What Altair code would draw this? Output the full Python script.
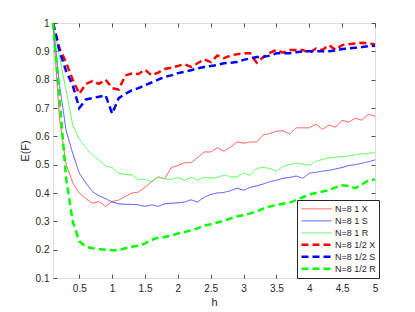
import altair as alt
import pandas as pd

h = [0.1, 0.2, 0.3, 0.4, 0.5, 0.6, 0.7, 0.8, 0.9, 1.0,
     1.1, 1.2, 1.3, 1.4, 1.5, 1.6, 1.7, 1.8, 1.9, 2.0,
     2.1, 2.2, 2.3, 2.4, 2.5, 2.6, 2.7, 2.8, 2.9, 3.0,
     3.1, 3.2, 3.3, 3.4, 3.5, 3.6, 3.7, 3.8, 3.9, 4.0,
     4.1, 4.2, 4.3, 4.4, 4.5, 4.6, 4.7, 4.8, 4.9, 5.0]

x1 = [1.0, 0.66, 0.50, 0.437, 0.40, 0.38, 0.364, 0.37, 0.353, 0.37,
      0.375, 0.388, 0.40, 0.403, 0.42, 0.44, 0.457, 0.45, 0.49, 0.497,
      0.507, 0.507, 0.525, 0.545, 0.545, 0.56, 0.548, 0.562, 0.58, 0.576,
      0.58, 0.58, 0.605, 0.61, 0.618, 0.62, 0.608, 0.63, 0.63, 0.63,
      0.643, 0.625, 0.64, 0.632, 0.657, 0.65, 0.664, 0.657, 0.678, 0.671]

s1 = [1.0, 0.78, 0.62, 0.54, 0.47, 0.435, 0.405, 0.39, 0.38, 0.368,
      0.362, 0.36, 0.36, 0.358, 0.353, 0.358, 0.353, 0.362, 0.364, 0.365,
      0.368, 0.376, 0.368, 0.385, 0.395, 0.40, 0.402, 0.408, 0.417, 0.41,
      0.42, 0.425, 0.432, 0.44, 0.445, 0.452, 0.455, 0.46, 0.452, 0.47,
      0.473, 0.477, 0.48, 0.485, 0.49, 0.497, 0.50, 0.505, 0.51, 0.517]

r1 = [1.0, 0.88, 0.76, 0.64, 0.59, 0.56, 0.535, 0.516, 0.495, 0.49,
      0.47, 0.465, 0.464, 0.448, 0.448, 0.44, 0.456, 0.45, 0.448, 0.455,
      0.444, 0.456, 0.445, 0.456, 0.452, 0.455, 0.463, 0.458, 0.456, 0.47,
      0.463, 0.487, 0.49, 0.487, 0.477, 0.494, 0.50, 0.505, 0.502, 0.498,
      0.512, 0.518, 0.524, 0.527, 0.528, 0.53, 0.535, 0.538, 0.54, 0.542]

x_half = [1.0, 0.91, 0.86, 0.80, 0.75, 0.785, 0.795, 0.785, 0.80, 0.77,
          0.765, 0.815, 0.822, 0.82, 0.835, 0.815, 0.825, 0.838, 0.842, 0.848,
          0.855, 0.845, 0.858, 0.872, 0.862, 0.885, 0.876, 0.885, 0.89, 0.893,
          0.893, 0.86, 0.88, 0.895, 0.905, 0.895, 0.905, 0.905, 0.905, 0.894,
          0.91, 0.905, 0.922, 0.905, 0.922, 0.925, 0.928, 0.93, 0.928, 0.925]

s_half = [1.0, 0.90, 0.83, 0.78, 0.70, 0.73, 0.735, 0.74, 0.745, 0.68,
          0.735, 0.75, 0.763, 0.77, 0.78, 0.79, 0.80, 0.81, 0.815, 0.823,
          0.828, 0.833, 0.84, 0.845, 0.848, 0.852, 0.858, 0.86, 0.862, 0.87,
          0.875, 0.88, 0.88, 0.885, 0.893, 0.893, 0.893, 0.897, 0.9, 0.9,
          0.9, 0.9, 0.9, 0.903, 0.908, 0.91, 0.913, 0.915, 0.918, 0.92]

r_half = [1.0, 0.73, 0.45, 0.30, 0.23, 0.21, 0.205, 0.202, 0.20, 0.198,
          0.198, 0.205, 0.21, 0.214, 0.222, 0.235, 0.242, 0.245, 0.25, 0.257,
          0.262, 0.268, 0.275, 0.285, 0.29, 0.296, 0.302, 0.31, 0.318, 0.322,
          0.328, 0.335, 0.345, 0.352, 0.358, 0.362, 0.366, 0.375, 0.385, 0.395,
          0.40, 0.405, 0.41, 0.42, 0.427, 0.425, 0.417, 0.43, 0.445, 0.448]

names = ["N=8 1 X", "N=8 1 S", "N=8 1 R", "N=8 1/2 X", "N=8 1/2 S", "N=8 1/2 R"]
series = [x1, s1, r1, x_half, s_half, r_half]
colors = ["#ff5050", "#5050ff", "#50ff50", "#ff0000", "#0000ff", "#00ff00"]
dashes = [[1, 0], [1, 0], [1, 0], [7, 4], [7, 4], [7, 4]]
widths = [1, 1, 1, 2.5, 2.5, 2.5]

x_ticks = [0.5, 1, 1.5, 2, 2.5, 3, 3.5, 4, 4.5, 5]
y_ticks = [0.1, 0.2, 0.3, 0.4, 0.5, 0.6, 0.7, 0.8, 0.9, 1]

rows = []
for name, vals in zip(names, series):
    for hv, v in zip(h, vals):
        rows.append({"h": hv, "E": v, "series": name})
df = pd.DataFrame(rows)

W, H = 322, 255
FONT = "Liberation Sans"
TXT = "#262626"

xscale = alt.Scale(domain=[0.1, 5], nice=False, zero=False)
yscale = alt.Scale(domain=[0.1, 1], nice=False, zero=False)

leg = alt.Legend(orient="none", legendX=244, legendY=177, title=None,
                 symbolType="stroke", symbolSize=900, clipHeight=11.7,
                 rowPadding=0, padding=3, strokeColor=TXT, fillColor="white",
                 labelFontSize=9, labelFont=FONT, labelColor=TXT, labelOffset=2)

lines = alt.Chart(df).mark_line().encode(
    x=alt.X("h:Q", scale=xscale, title="h",
            axis=alt.Axis(orient="bottom", values=x_ticks, format="~g", ticks=False,
                          domain=False, grid=False, labelPadding=5, titlePadding=3,
                          labelFontSize=10, titleFontSize=11, labelFont=FONT,
                          titleFont=FONT, labelColor=TXT, titleColor=TXT,
                          titleFontWeight="normal", labelFlush=False)),
    y=alt.Y("E:Q", scale=yscale, title="E(F)",
            axis=alt.Axis(orient="left", values=y_ticks, format="~g", ticks=False,
                          domain=False, grid=False, labelPadding=4, titlePadding=5,
                          labelFontSize=10, titleFontSize=11, labelFont=FONT,
                          titleFont=FONT, labelColor=TXT, titleColor=TXT,
                          titleFontWeight="normal", labelFlush=False)),
    color=alt.Color("series:N", sort=names,
                    scale=alt.Scale(domain=names, range=colors), legend=leg),
    strokeDash=alt.StrokeDash("series:N", sort=names,
                              scale=alt.Scale(domain=names, range=dashes), legend=leg),
    strokeWidth=alt.StrokeWidth("series:N", sort=names,
                                scale=alt.Scale(type="ordinal", domain=names, range=widths),
                                legend=leg),
    order=alt.Order("series:N"),
)

def tick_axis(orient, off, vals):
    return alt.Axis(orient=orient, offset=off, labels=False, domain=False, grid=False,
                    ticks=True, tickSize=4, tickColor=TXT, tickWidth=0.8, title=None,
                    values=vals)

ticks1 = alt.Chart(df).mark_line(opacity=0).encode(
    x=alt.X("h:Q", scale=xscale, axis=tick_axis("top", -H, x_ticks)),
    y=alt.Y("E:Q", scale=yscale, axis=tick_axis("right", -W, y_ticks)),
    detail="series:N",
)
ticks2 = alt.Chart(df).mark_line(opacity=0).encode(
    x=alt.X("h:Q", scale=xscale, axis=tick_axis("bottom", -H, x_ticks)),
    y=alt.Y("E:Q", scale=yscale, axis=tick_axis("left", -W, y_ticks)),
    detail="series:N",
)

chart = alt.layer(lines, ticks1, ticks2).resolve_axis(
    x="independent", y="independent"
).properties(
    width=W, height=H, autosize="none",
    padding={"left": 45, "top": 15, "right": 30, "bottom": 34},
).configure_view(stroke=TXT, strokeWidth=1).configure(background="white")

chart.save("out.html", embed_options={"renderer": "svg", "actions": False})
